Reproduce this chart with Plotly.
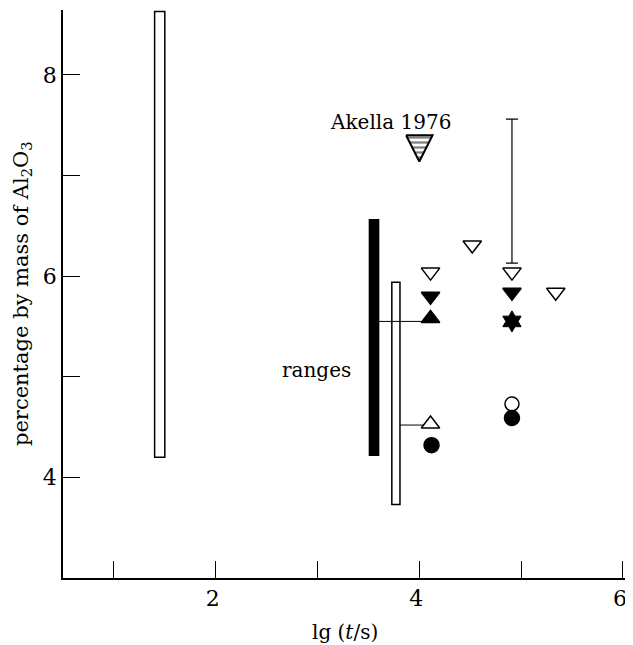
import plotly.graph_objects as go

# ---- data ----
# range bars: centre x, width (lg units), bottom, top (% Al2O3)
bar_x = [1.45, 3.555, 3.77]
bar_w = [0.10, 0.09, 0.08]
bar_lo = [4.20, 4.22, 3.73]
bar_hi = [8.63, 6.56, 5.94]
bar_fill = ["white", "black", "white"]

# open down-triangles
odt_x = [4.11, 4.52, 4.91, 5.34]
odt_y = [6.04, 6.31, 6.04, 5.84]
# filled down-triangles
fdt_x = [4.11, 4.91]
fdt_y = [5.80, 5.84]
# filled up-triangle
fut_x = [4.11]
fut_y = [5.58]
# open up-triangle
out_x = [4.11]
out_y = [4.53]
# filled hexagram
hex_x = [4.91]
hex_y = [5.55]
# open circle
oc_x = [4.91]
oc_y = [4.73]
# filled circles
fc_x = [4.12, 4.91]
fc_y = [4.32, 4.59]
# vertical error bar (base, upper end)
err_x = [4.91]
err_base = [6.13]
err_top = [7.56]
# connector lines from ranges to points
conn1_x = [3.60, 4.05]
conn1_y = [5.55, 5.55]
conn2_x = [3.81, 4.05]
conn2_y = [4.52, 4.52]
# Akella 1976 hatched triangle
ak_x = 4.0
ak_y = 7.28
ak_hw = 0.13
ak_up = 0.12
ak_dn = 0.14

x_ticks = [2, 4, 6]
x_ticktext = ["2", "4", "6"]
y_ticks = [4, 6, 8]
y_ticktext = ["4", "6", "8"]

FONT = "DejaVu Serif"
fig = go.Figure()

fig.add_trace(go.Bar(
    x=bar_x, y=[h - l for h, l in zip(bar_hi, bar_lo)], base=bar_lo, width=bar_w,
    marker=dict(color=bar_fill, line=dict(color="black", width=1.5)),
    showlegend=False, hoverinfo="skip"))

for cx, cy in [(conn1_x, conn1_y), (conn2_x, conn2_y)]:
    fig.add_trace(go.Scatter(x=cx, y=cy, mode="lines",
                             line=dict(color="black", width=1), showlegend=False))

fig.add_trace(go.Scatter(
    x=err_x, y=err_base, mode="markers", marker=dict(size=1, color="rgba(0,0,0,0)"),
    error_y=dict(type="data", symmetric=False,
                 array=[t - b for t, b in zip(err_top, err_base)], arrayminus=[0],
                 color="black", thickness=1.2, width=6),
    showlegend=False))

def add_markers(xs, ys, symbol, size, fill, lw=1.5):
    fig.add_trace(go.Scatter(
        x=xs, y=ys, mode="markers",
        marker=dict(symbol=symbol, size=size, color=fill,
                    line=dict(color="black", width=lw)),
        showlegend=False))

add_markers(odt_x, odt_y, "triangle-down", 16, "white")
add_markers(fdt_x, fdt_y, "triangle-down", 16, "black")
add_markers(fut_x, fut_y, "triangle-up", 16, "black")
add_markers(out_x, out_y, "triangle-up", 16, "white")
add_markers(hex_x, hex_y, "hexagram", 16, "black", 1)
add_markers(oc_x, oc_y, "circle", 14, "white")
add_markers(fc_x, fc_y, "circle", 15, "black")

# hatched Akella triangle
fig.add_trace(go.Scatter(
    x=[ak_x - ak_hw, ak_x + ak_hw, ak_x, ak_x - ak_hw],
    y=[ak_y + ak_up, ak_y + ak_up, ak_y - ak_dn, ak_y + ak_up],
    mode="lines", fill="toself",
    fillcolor="white",
    fillpattern=dict(shape="-", fgcolor="black", bgcolor="white", size=5, solidity=0.45),
    line=dict(color="black", width=2), showlegend=False))

fig.add_annotation(x=3.72, y=7.53, text="Akella 1976", showarrow=False,
                   font=dict(family=FONT, size=20, color="black"))
fig.add_annotation(x=3.35, y=5.07, text="ranges", showarrow=False, xanchor="right",
                   font=dict(family=FONT, size=20, color="black"))

fig.add_annotation(xref="paper", yref="paper", x=0, y=0.5, xshift=-41,
                   xanchor="center", yanchor="middle",
                   text="percentage by mass of Al<sub>2</sub>O<sub>3</sub>",
                   textangle=-90, showarrow=False,
                   font=dict(family=FONT, size=21, color="black"))
fig.add_annotation(xref="paper", yref="paper", x=0.5, y=0, yshift=-54,
                   xanchor="center", yanchor="middle",
                   text="lg (<i>t</i>/s)", showarrow=False,
                   font=dict(family=FONT, size=20, color="black"))

axis_common = dict(showline=True, linecolor="black", linewidth=1.5, ticks="inside",
                   ticklen=17, tickwidth=1.2, tickcolor="black", showgrid=False,
                   zeroline=False, ticklabeloverflow="allow",
                   tickfont=dict(family=FONT, size=22, color="black"),
                   minor=dict(dtick=1, tick0=0, ticks="inside", ticklen=17, tickwidth=1.2,
                              tickcolor="black", showgrid=False))
fig.update_xaxes(range=[0.5, 6.04], tickvals=x_ticks, ticktext=x_ticktext,
                 ticklabelshift=-3, **axis_common)
fig.update_yaxes(range=[3.0, 8.645], tickvals=y_ticks, ticktext=y_ticktext, **axis_common)

# page body has an 8px margin, so the figure is offset to line up with the window
fig.update_layout(width=619, height=637, margin=dict(l=55, r=0, t=2, b=67),
                  plot_bgcolor="white", paper_bgcolor="white", showlegend=False)

fig.write_html("out.html")
